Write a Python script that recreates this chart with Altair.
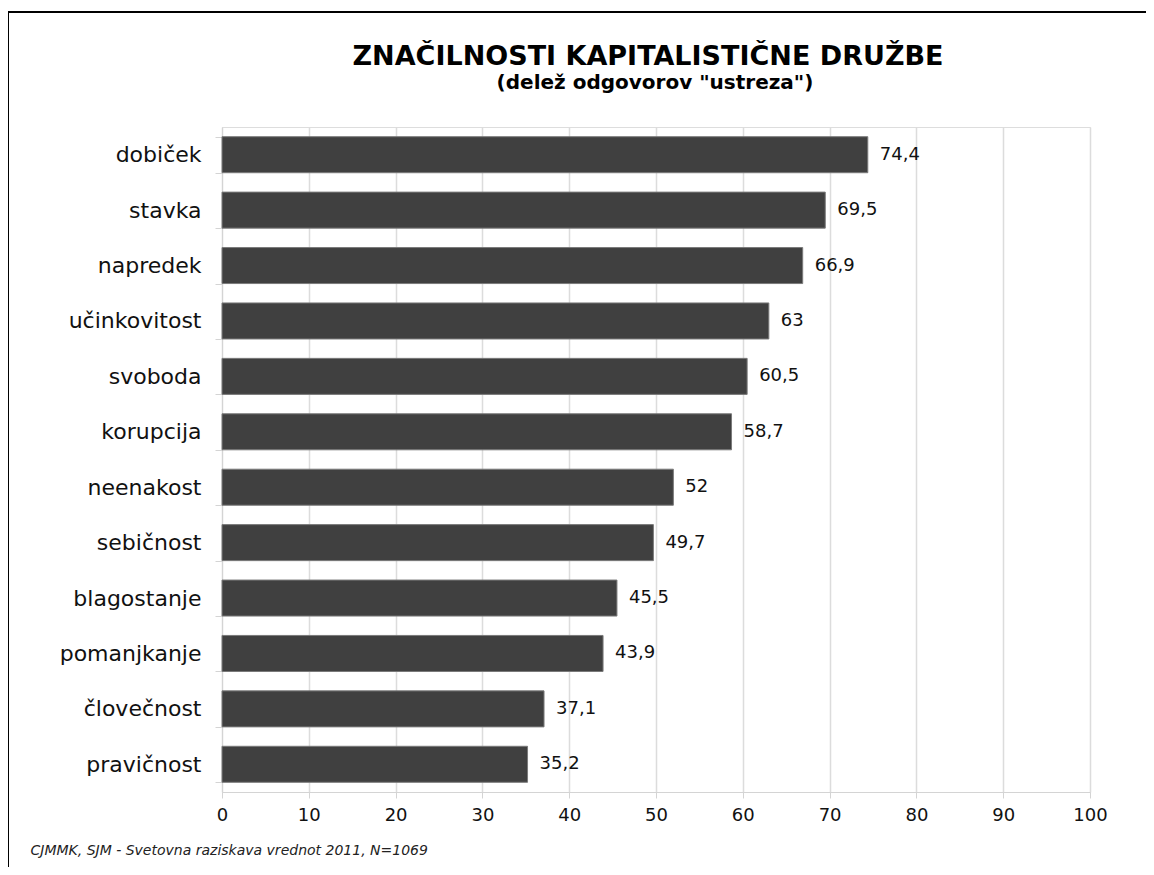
import altair as alt
import pandas as pd

categories = ["dobiček", "stavka", "napredek", "učinkovitost", "svoboda", "korupcija",
              "neenakost", "sebičnost", "blagostanje", "pomanjkanje", "človečnost", "pravičnost"]
values = [74.4, 69.5, 66.9, 63, 60.5, 58.7, 52, 49.7, 45.5, 43.9, 37.1, 35.2]
x_ticks = [0, 10, 20, 30, 40, 50, 60, 70, 80, 90, 100]
title_text = "ZNAČILNOSTI KAPITALISTIČNE DRUŽBE"
subtitle_text = '(delež odgovorov "ustreza")'
footer_text = "CJMMK, SJM - Svetovna raziskava vrednot 2011, N=1069"

df = pd.DataFrame({
    "cat": categories,
    "val": values,
    "lab": [f"{v:g}".replace(".", ",") for v in values],
})

FONT = "DejaVu Sans"

base = alt.Chart(df)

bars = base.mark_bar(color="#404040", stroke="#7a7a7a", strokeWidth=1).encode(
    y=alt.Y("cat:N", sort=categories, title=None,
            scale=alt.Scale(paddingInner=0.35, paddingOuter=0.175),
            axis=alt.Axis(labelFont=FONT, labelFontSize=22, labelColor="#111111",
                          labelPadding=14, tickBand="extent", tickSize=7,
                          tickColor="#d4d4d4", domainColor="#d4d4d4", grid=False)),
    x=alt.X("val:Q", title=footer_text,
            scale=alt.Scale(domain=[0, 100], nice=False),
            axis=alt.Axis(values=x_ticks, labelFont=FONT, labelFontSize=18,
                          labelColor="#111111", labelPadding=8, tickSize=6,
                          labelFlush=False,
                          tickColor="#d4d4d4", domainColor="#d4d4d4",
                          gridColor="#dcdcdc", gridWidth=1.5,
                          titleFont=FONT, titleFontSize=14, titleFontStyle="italic",
                          titleFontWeight="normal", titleColor="#222222",
                          titleAnchor="start", titleAlign="left",
                          titleX=-192, titleY=58, titleBaseline="middle")),
)

texts = base.mark_text(align="left", baseline="middle", dx=12, font=FONT,
                       fontSize=18, color="#111111").encode(
    y=alt.Y("cat:N", sort=categories),
    x=alt.X("val:Q"),
    text="lab:N",
)

one = pd.DataFrame({"k": [0]})
title_mark = alt.Chart(one).mark_text(
    text=title_text, font=FONT, fontSize=27, fontWeight="bold", color="#000000",
    align="center", baseline="alphabetic").encode(x=alt.value(426), y=alt.value(-62))
subtitle_mark = alt.Chart(one).mark_text(
    text=subtitle_text, font=FONT, fontSize=20, fontWeight="bold", color="#000000",
    align="center", baseline="alphabetic").encode(x=alt.value(433), y=alt.value(-38))

left_line = alt.Chart(one).mark_rule(color="black", strokeWidth=2).encode(
    x=alt.value(-214), y=alt.value(-115), y2=alt.value(800))
top_line = alt.Chart(one).mark_rule(color="black", strokeWidth=2).encode(
    x=alt.value(-214), x2=alt.value(930), y=alt.value(-115))

chart = alt.layer(bars, texts, title_mark, subtitle_mark, left_line, top_line).properties(
    width=868, height=665,
    padding={"left": 214, "top": 119, "right": 56, "bottom": 75},
    autosize=alt.AutoSizeParams(type="none"),
).configure_view(stroke="#d4d4d4", strokeWidth=1.5).configure(background="white")

chart.save("out.html", embed_options={"renderer": "svg", "actions": False})
